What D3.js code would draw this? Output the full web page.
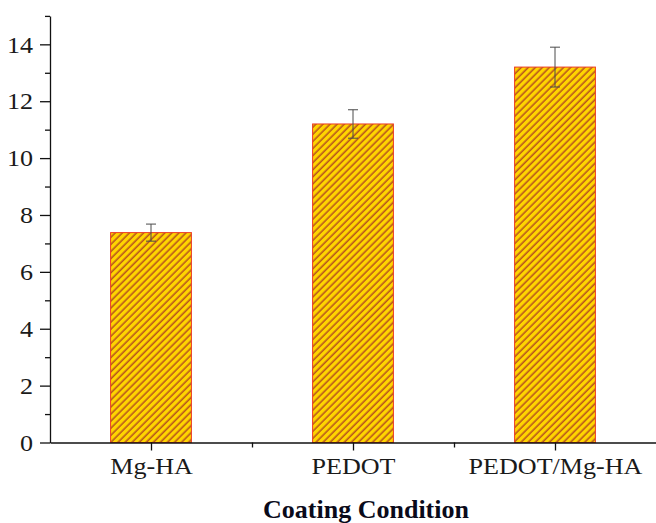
<!DOCTYPE html>
<html>
<head>
<meta charset="utf-8">
<script src="https://cdn.jsdelivr.net/npm/d3@7"></script>
<style>
  html, body { margin: 0; padding: 0; background: #fff; }
  svg { display: block; }
</style>
</head>
<body>
<svg id="chart" width="656" height="523"></svg>
<script>
// ---- data ----
const categories = ["Mg-HA", "PEDOT", "PEDOT/Mg-HA"];
const values = [7.38, 11.2, 13.2];
const errors = [0.3, 0.5, 0.7];
const yTicks = [0, 2, 4, 6, 8, 10, 12, 14];
const yMinorTicks = [1, 3, 5, 7, 9, 11, 13, 15];
const xAxisTitle = "Coating Condition";

// ---- layout ----
const svg = d3.select("#chart");
const mLeft = 50, mRight = 656, mTop = 15.9, mBottom = 442.5;
const hs = 1.16; // horizontal text stretch

const x = d3.scaleLinear().domain([0.5, 3.5]).range([mLeft, mRight]);
const y = d3.scaleLinear().domain([0, 15]).range([mBottom, mTop]);
const barW = x(1.4) - x(1);

// hatch pattern
const defs = svg.append("defs");
const pat = defs.append("pattern")
  .attr("id", "hatch")
  .attr("patternUnits", "userSpaceOnUse")
  .attr("width", 5).attr("height", 5)
  .attr("patternTransform", "rotate(45)");
pat.append("rect").attr("width", 5).attr("height", 5).attr("fill", "#FFD500");
pat.append("line").attr("x1", 1.2).attr("y1", 0).attr("x2", 1.2).attr("y2", 5)
  .attr("stroke", "#B8561C").attr("stroke-width", 1.6);

// bars
svg.append("g").selectAll("rect")
  .data(values)
  .join("rect")
  .attr("x", (d, i) => x(i + 1) - barW / 2)
  .attr("y", d => y(d))
  .attr("width", barW)
  .attr("height", d => y(0) - y(d))
  .attr("fill", "url(#hatch)")
  .attr("stroke", "#EC3A22")
  .attr("stroke-width", 1);

// error bars
const eg = svg.append("g").attr("stroke", "#4a4a4a").attr("stroke-width", 1).attr("fill", "none");
values.forEach((v, i) => {
  const cx = x(i + 1);
  eg.append("line").attr("x1", cx).attr("x2", cx).attr("y1", y(v + errors[i])).attr("y2", y(v - errors[i]));
  eg.append("line").attr("x1", cx - 5).attr("x2", cx + 5).attr("y1", y(v + errors[i])).attr("y2", y(v + errors[i]));
  eg.append("line").attr("x1", cx - 5).attr("x2", cx + 5).attr("y1", y(v - errors[i])).attr("y2", y(v - errors[i]));
});

// y axis
const yAxis = svg.append("g")
  .attr("transform", `translate(${mLeft},0)`)
  .call(d3.axisLeft(y).tickValues(yTicks).tickSize(10).tickSizeOuter(0).tickFormat(d3.format("d")));
svg.append("g")
  .attr("transform", `translate(${mLeft},0)`)
  .call(d3.axisLeft(y).tickValues(yMinorTicks).tickSize(5).tickSizeOuter(0).tickFormat(""))
  .call(g => g.select(".domain").remove());
yAxis.selectAll("text")
  .attr("x", -17 / hs)
  .attr("dy", "0.34em")
  .attr("transform", `scale(${hs},1)`)
  .style("font-family", "'Liberation Serif', 'Times New Roman', serif")
  .style("font-size", "22.5px")
  .attr("fill", "#1a1a1a");

// x axis
const xAxis = svg.append("g")
  .attr("transform", `translate(0,${mBottom})`)
  .call(d3.axisBottom(x).tickValues([1, 2, 3]).tickSize(8).tickSizeOuter(0)
    .tickFormat((d) => categories[d - 1]));
svg.append("g")
  .attr("transform", `translate(0,${mBottom})`)
  .call(d3.axisBottom(x).tickValues([1.5, 2.5]).tickSize(5).tickSizeOuter(0).tickFormat(""))
  .call(g => g.select(".domain").remove());
xAxis.selectAll("text")
  .attr("y", 32)
  .attr("dy", 0)
  .attr("transform", `scale(${hs},1)`)
  .attr("x", 0)
  .style("font-family", "'Liberation Serif', 'Times New Roman', serif")
  .style("font-size", "22.5px")
  .attr("fill", "#1a1a1a");

svg.selectAll(".domain, .tick line").attr("stroke", "#111").attr("stroke-width", 1.3);

// x axis title
svg.append("text")
  .attr("transform", `translate(366,518)`)
  .attr("text-anchor", "middle")
  .style("font-family", "'Liberation Serif', 'Times New Roman', serif")
  .style("font-weight", "bold")
  .style("font-size", "26px")
  .attr("fill", "#0a0a1a")
  .text(xAxisTitle);
</script>
</body>
</html>
